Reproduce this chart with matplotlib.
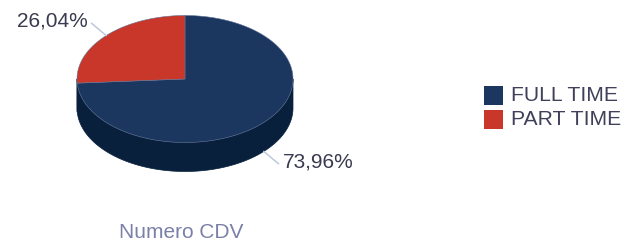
import numpy as np
import matplotlib
matplotlib.use("Agg")
import matplotlib.pyplot as plt
from matplotlib.patches import Polygon, Rectangle

plt.rcParams['font.family'] = ['Liberation Sans', 'DejaVu Sans']

# data
categories = ['FULL TIME', 'PART TIME']
values = [73.96, 26.04]
labels = ['73,96%', '26,04%']
top_colors = ['#1b365f', '#c8372a']
side_colors = ['#08203c', '#08203c']
title = 'Numero CDV'

# pie geometry (pixel coords, y down)
cx, cy = 185, 79
rx, ry = 108, 63.5
depth = 29

fig = plt.figure(figsize=(6.4, 2.49), dpi=100)
ax = fig.add_axes([0, 0, 1, 1])
ax.set_xlim(0, 640)
ax.set_ylim(249, 0)
ax.axis('off')


def pt(t, dy=0):
    return cx + rx * np.cos(t), cy - ry * np.sin(t) + dy


# slice angles: clockwise from 12 o'clock
fr = np.array(values) / sum(values)
ends = np.pi / 2 - 2 * np.pi * np.cumsum(fr)
starts = np.concatenate([[np.pi / 2], ends[:-1]])

# side walls (front half only)
for s, e, col in zip(starts, ends, side_colors):
    lo, hi = min(s, e), max(s, e)
    # front half is where sin < 0, i.e. angles in (pi, 2pi) mod 2pi
    for k in range(-2, 2):
        a = max(lo, np.pi + 2 * np.pi * k)
        b = min(hi, 2 * np.pi + 2 * np.pi * k)
        if b > a:
            t = np.linspace(a, b, 100)
            x, y = pt(t)
            xb, yb = pt(t[::-1], depth)
            ax.add_patch(Polygon(np.column_stack([np.r_[x, xb], np.r_[y, yb]]),
                                 closed=True, fc=col, ec=col, lw=0.5))

# top faces
for s, e, col in zip(starts, ends, top_colors):
    t = np.linspace(s, e, 200)
    x, y = pt(t)
    poly = np.column_stack([np.r_[cx, x], np.r_[cy, y]])
    ax.add_patch(Polygon(poly, closed=True, fc=col, ec='#5f7396', lw=0.4))

# labels with leader lines
for s, e, lab in zip(starts, ends, labels):
    m = (s + e) / 2
    front = np.sin(m) < 0
    ax0, ay0 = pt(m, depth if front else 0)
    dx, dy = np.cos(m), -np.sin(m)
    ex, ey = ax0 + 20 * dx, ay0 + 18 * dy
    ax.plot([ax0, ex], [ay0, ey], color='#b8c4d8', lw=1)
    ax.text(ex + (4 if dx > 0 else -4) * np.sign(dx) * np.sign(dx), ey - 2, lab,
            fontsize=15, ha='left' if dx > 0 else 'right', va='center',
            color='#3a3a50')

# legend
for i, (cat, col) in enumerate(zip(categories, top_colors)):
    y0 = 86 + i * 24
    ax.add_patch(Rectangle((484, y0), 19, 19, fc=col, ec='none'))
    ax.text(511, y0 + 9.5, cat, fontsize=15.2, va='center', ha='left', color='#40405a')

ax.text(181, 232, title, fontsize=15, ha='center', va='center', color='#7b80a8')

fig.savefig('out.png', dpi=100)
